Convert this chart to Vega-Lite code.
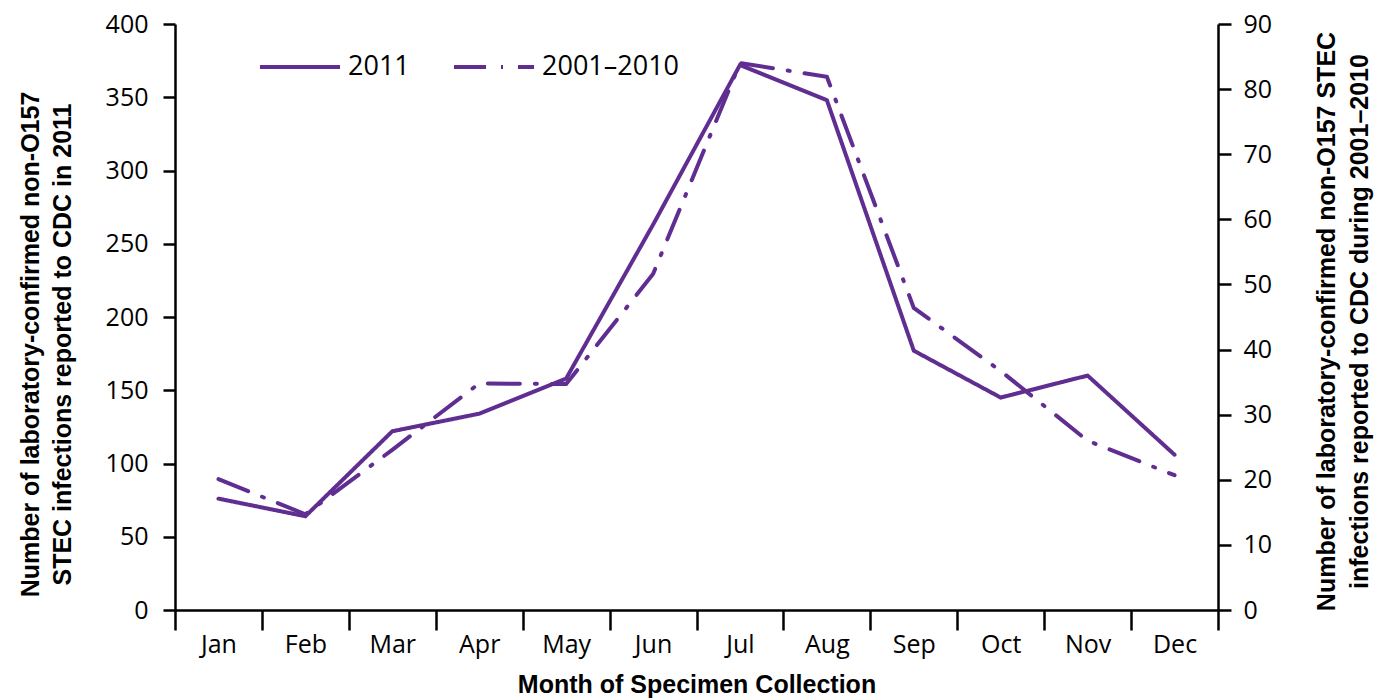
{
  "$schema": "https://vega.github.io/schema/vega-lite/v6.json",
  "autosize": "none",
  "width": 1043,
  "height": 586,
  "padding": {"left": 175, "top": 24, "right": 166, "bottom": 88},
  "background": "white",
  "config": {
    "view": {"stroke": null},
    "axis": {"grid": false, "domainColor": "black", "tickColor": "black", "domainWidth": 2.5, "tickWidth": 2.5, "labelFont": "Open Sans", "labelFontSize": 25, "labelColor": "black", "titleFont": "Liberation Sans", "titleFontWeight": "bold", "titleFontSize": 25, "titleColor": "black"}
  },
  "data": {"values": [
    {"month": "Jan", "series": "2011", "value": 76},
    {"month": "Feb", "series": "2011", "value": 64},
    {"month": "Mar", "series": "2011", "value": 122},
    {"month": "Apr", "series": "2011", "value": 134},
    {"month": "May", "series": "2011", "value": 158},
    {"month": "Jun", "series": "2011", "value": 263},
    {"month": "Jul", "series": "2011", "value": 372},
    {"month": "Aug", "series": "2011", "value": 348},
    {"month": "Sep", "series": "2011", "value": 177},
    {"month": "Oct", "series": "2011", "value": 145},
    {"month": "Nov", "series": "2011", "value": 160},
    {"month": "Dec", "series": "2011", "value": 106},
    {"month": "Jan", "series": "2001–2010", "value": 20.1},
    {"month": "Feb", "series": "2001–2010", "value": 14.7},
    {"month": "Mar", "series": "2001–2010", "value": 24.6},
    {"month": "Apr", "series": "2001–2010", "value": 34.8},
    {"month": "May", "series": "2001–2010", "value": 34.7},
    {"month": "Jun", "series": "2001–2010", "value": 51.6},
    {"month": "Jul", "series": "2001–2010", "value": 84.0},
    {"month": "Aug", "series": "2001–2010", "value": 81.9},
    {"month": "Sep", "series": "2001–2010", "value": 46.4},
    {"month": "Oct", "series": "2001–2010", "value": 36.7},
    {"month": "Nov", "series": "2001–2010", "value": 26.0},
    {"month": "Dec", "series": "2001–2010", "value": 20.7}
  ]},
  "encoding": {
    "x": {
      "field": "month", "type": "nominal",
      "scale": {"type": "band", "domain": ["Jan","Feb","Mar","Apr","May","Jun","Jul","Aug","Sep","Oct","Nov","Dec"], "paddingInner": 0, "paddingOuter": 0},
      "axis": {"title": "Month of Specimen Collection", "labelAngle": 0, "tickBand": "extent", "tickSize": 20, "labelPadding": 2, "titlePadding": 15}
    },
    "strokeDash": {
      "field": "series", "type": "nominal",
      "scale": {"domain": ["2011", "2001–2010"], "range": [[1, 0], [32, 15, 2, 15]]},
      "legend": {"title": null, "orient": "none", "direction": "horizontal", "legendX": 83, "legendY": 1, "padding": 0, "symbolType": "stroke", "symbolSize": 6400, "symbolStrokeWidth": 4, "symbolStrokeColor": "#602D91", "labelFont": "Open Sans", "labelFontSize": 27, "labelColor": "black", "labelOffset": 6, "columnPadding": 36}
    }
  },
  "layer": [
    {
      "transform": [{"filter": "datum.series === '2011'"}],
      "mark": {"type": "line", "color": "#602D91", "strokeWidth": 4, "strokeCap": "round", "strokeJoin": "miter"},
      "encoding": {
        "y": {"field": "value", "type": "quantitative", "scale": {"domain": [0, 400]},
          "axis": {"orient": "left", "values": [0,50,100,150,200,250,300,350,400], "tickSize": 12, "labelPadding": 15, "title": ["Number of  laboratory-confirmed non-O157", "STEC infections reported to CDC in 2011"], "titleAngle": 270, "titlePadding": 30, "titleY": 320, "titleLineHeight": 32}}
      }
    },
    {
      "transform": [{"filter": "datum.series === '2001–2010'"}],
      "mark": {"type": "line", "color": "#602D91", "strokeWidth": 4, "strokeCap": "round", "strokeJoin": "miter"},
      "encoding": {
        "y": {"field": "value", "type": "quantitative", "scale": {"domain": [0, 90]},
          "axis": {"orient": "right", "values": [0,10,20,30,40,50,60,70,80,90], "tickSize": 13, "labelPadding": 12, "title": ["Number of laboratory-confirmed  non-O157 STEC", "infections reported to CDC during 2001–2010"], "titleAngle": 270, "titlePadding": 35, "titleY": 297, "titleLineHeight": 33}}
      }
    }
  ],
  "resolve": {"scale": {"y": "independent"}}
}
